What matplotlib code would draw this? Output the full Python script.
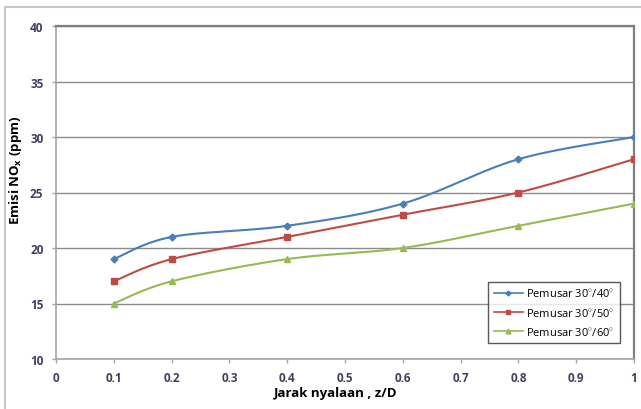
import numpy as np
import matplotlib.pyplot as plt
from matplotlib.lines import Line2D

# data
jarak = [0.1, 0.2, 0.4, 0.6, 0.8, 1.0]
pemusar_40 = [19, 21, 22, 24, 28, 30]
pemusar_50 = [17, 19, 21, 23, 25, 28]
pemusar_60 = [15, 17, 19, 20, 22, 24]
labels = ['Pemusar 30$^{\\circ}$/40$^{\\circ}$',
          'Pemusar 30$^{\\circ}$/50$^{\\circ}$',
          'Pemusar 30$^{\\circ}$/60$^{\\circ}$']

plt.rcParams['font.family'] = ['Open Sans', 'DejaVu Sans']
plt.rcParams['mathtext.fontset'] = 'custom'
plt.rcParams['mathtext.rm'] = 'Open Sans'
plt.rcParams['mathtext.bf'] = 'Open Sans:bold'


def smooth(x, y, n=30):
    """Excel-like smoothed line (Catmull-Rom through the points)"""
    x = np.asarray(x, float)
    y = np.asarray(y, float)
    px = np.concatenate([[x[0]], x, [x[-1]]])
    py = np.concatenate([[y[0]], y, [y[-1]]])
    xs, ys = [], []
    t = np.linspace(0, 1, n)
    for i in range(1, len(px) - 2):
        p0, p1, p2, p3 = [np.array([px[j], py[j]]) for j in range(i - 1, i + 3)]
        c1 = p1 + (p2 - p0) / 6
        c2 = p2 - (p3 - p1) / 6
        for tt in t:
            b = ((1 - tt) ** 3 * p1 + 3 * (1 - tt) ** 2 * tt * c1
                 + 3 * (1 - tt) * tt ** 2 * c2 + tt ** 3 * p2)
            xs.append(b[0])
            ys.append(b[1])
    return xs, ys


fig = plt.figure(figsize=(6.41, 4.10), dpi=100)
ax = fig.add_axes([56 / 641, 1 - 360 / 410, 578 / 641, 333 / 410])

series = [(pemusar_40, '#4A7EBB', 'D', 3.5),
          (pemusar_50, '#BE4B48', 's', 4.5),
          (pemusar_60, '#98B954', '^', 4.5)]
handles = []
for (vals, col, mk, ms), lab in zip(series, labels):
    sx, sy = smooth(jarak, vals)
    ax.plot(sx, sy, color=col, lw=1.5, zorder=3)
    ax.plot(jarak, vals, mk, color=col, ms=ms, zorder=4)
    handles.append(Line2D([], [], color=col, lw=1.2, marker=mk, ms=ms - 1, label=lab))

ax.set_xlim(0, 1)
ax.set_ylim(10, 40)
ax.set_xticks(np.arange(0, 1.01, 0.1))
ax.set_xticklabels(['0', '0.1', '0.2', '0.3', '0.4', '0.5', '0.6', '0.7', '0.8', '0.9', '1'])
ax.set_yticks(range(10, 41, 5))
ax.grid(axis='y', color='#8C8C8C', lw=1)
ax.set_axisbelow(True)

for s in ['left', 'bottom']:
    ax.spines[s].set_color('#A6A6A6')
    ax.spines[s].set_linewidth(1.2)
for s in ['top', 'right']:
    ax.spines[s].set_color('#7F7F7F')
    ax.spines[s].set_linewidth(1.6)

ax.tick_params(axis='both', direction='out', length=3, width=1, color='#A6A6A6',
               labelsize=8.5, labelcolor='#404060', pad=6)
for t in ax.get_xticklabels() + ax.get_yticklabels():
    t.set_fontweight('bold')

ax.set_ylabel('Emisi NO$_\\mathbf{x}$ (ppm)', fontsize=9.5, fontweight='bold')
ax.yaxis.set_label_coords(-0.056, 0.57)
ax.set_xlabel('Jarak nyalaan , z/D', fontsize=9.5, fontweight='bold')
ax.xaxis.set_label_coords(0.484, -0.082)

leg = ax.legend(handles=handles, loc='lower right', bbox_to_anchor=(0.985, 0.03),
                fontsize=8, frameon=True, fancybox=False, handlelength=2.6,
                borderpad=0.5, labelspacing=0.65, handletextpad=0.3)
leg.get_frame().set_edgecolor('#303030')
leg.get_frame().set_linewidth(1)

# chart area frame
fig.add_artist(Line2D([5 / 641, 5 / 641], [0, 1 - 8 / 410], color='#C8C8C8', lw=1.5,
                      transform=fig.transFigure))
fig.add_artist(Line2D([5 / 641, 1], [1 - 8 / 410, 1 - 8 / 410], color='#C8C8C8', lw=1.5,
                      transform=fig.transFigure))

fig.savefig('out.png', dpi=100)
